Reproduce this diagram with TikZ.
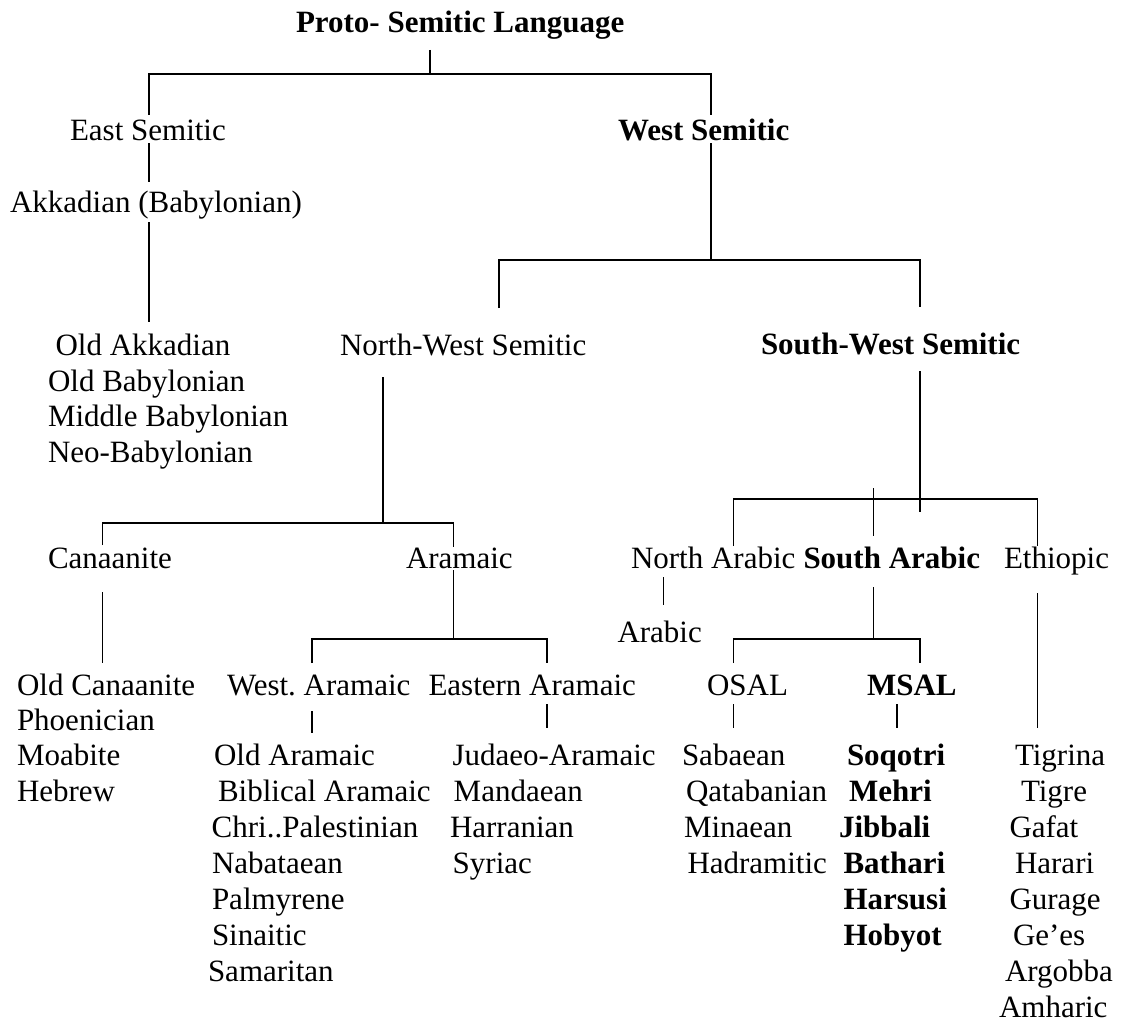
\documentclass[tikz,border=0pt]{standalone}
\usepackage{fontspec}
\setmainfont{Liberation Serif}
\begin{document}
\frenchspacing
\begin{tikzpicture}[x=1pt,y=-1pt,
  lbl/.style={anchor=base west,inner sep=0pt,outer sep=0pt,font=\fontsize{31}{35.6}\selectfont},
  bl/.style={lbl,font=\fontsize{31}{35.6}\selectfont\bfseries},
  ln/.style={line width=1.2pt,line cap=butt,line join=miter}]
\useasboundingbox (0,0) rectangle (1123,1022);
% ---------- text ----------
\node[bl]  (ps)  at (296,33)  {Proto- Semitic Language};
\node[lbl] (es)  at (70,140)  {East Semitic};
\node[bl]  (ws)  at (618,140) {West Semitic};
\node[lbl] (akk) at (10,212)  {Akkadian (Babylonian)};
\node[lbl] (oak) at (55.5,355) {Old Akkadian};
\node[lbl] (obb) at (48,391)  {Old Babylonian};
\node[lbl] (mbb) at (48,426)  {Middle Babylonian};
\node[lbl] (nbb) at (48,462)  {Neo-Babylonian};
\node[lbl] (nws) at (340,355) {North-West Semitic};
\node[bl]  (sws) at (761,354) {South-West Semitic};
\node[lbl] (can) at (48,568)  {Canaanite};
\node[lbl] (ara) at (406,568) {Aramaic};
\node[lbl] (nar) at (631,568) {North Arabic};
\node[bl]  (sar) at (803.5,568) {South Arabic};
\node[lbl] (eth) at (1004,568) {Ethiopic};
\node[lbl] (arb) at (617.5,642) {Arabic};
\node[lbl] (ocn) at (17,695)  {Old Canaanite};
\node[lbl] (pho) at (17,730)  {Phoenician};
\node[lbl] (moa) at (17,765)  {Moabite};
\node[lbl] (heb) at (17,801)  {Hebrew};
\node[lbl] (wa)  at (227,695) {West.\ Aramaic};
\node[lbl] (ea)  at (428.5,695) {Eastern Aramaic};
\node[lbl] (osal) at (707,695) {OSAL};
\node[bl]  (msal) at (867,695) {MSAL};
\node[lbl] (oar) at (214,765) {Old Aramaic};
\node[lbl] (bar) at (218,801) {Biblical Aramaic};
\node[lbl] (chr) at (211.7,837) {Chri..Palestinian};
\node[lbl] (nab) at (212,873) {Nabataean};
\node[lbl] (pal) at (212,909) {Palmyrene};
\node[lbl] (sin) at (212,945) {Sinaitic};
\node[lbl] (sam) at (208,981) {Samaritan};
\node[lbl] (jud) at (452.5,765) {Judaeo-Aramaic};
\node[lbl] (man) at (453.7,801) {Mandaean};
\node[lbl] (har) at (450,837) {Harranian};
\node[lbl] (syr) at (452.7,873) {Syriac};
\node[lbl] (sab) at (682,765) {Sabaean};
\node[lbl] (qat) at (686,801) {Qatabanian};
\node[lbl] (min) at (684,837) {Minaean};
\node[lbl] (had) at (687.5,873) {Hadramitic};
\node[bl]  (soq) at (847,765) {Soqotri};
\node[bl]  (meh) at (849,801) {Mehri};
\node[bl]  (jib) at (839,837) {Jibbali};
\node[bl]  (bat) at (843.5,873) {Bathari};
\node[bl]  (hrs) at (843.5,909) {Harsusi};
\node[bl]  (hob) at (843.5,945) {Hobyot};
\node[lbl] (tgn) at (1015,765) {Tigrina};
\node[lbl] (tgr) at (1021,801) {Tigre};
\node[lbl] (gaf) at (1009.5,837) {Gafat};
\node[lbl] (hrr) at (1015,873) {Harari};
\node[lbl] (gur) at (1009.5,909) {Gurage};
\node[lbl] (gee) at (1013,945) {Ge’es};
\node[lbl] (arg) at (1005,981) {Argobba};
\node[lbl] (amh) at (999,1017) {Amharic};
% ---------- connector end points ----------
\coordinate (psS) at (430,50);   \coordinate (psJ) at (430,74);
\coordinate (esN) at (149,115);  \coordinate (wsN) at (711,115);
\coordinate (esS) at (149,143);  \coordinate (akN) at (149,182);
\coordinate (akS) at (149,222);  \coordinate (oakN) at (149,322);
\coordinate (wsS) at (711,143);  \coordinate (wsJ) at (711,260);
\coordinate (nwsN) at (499,308); \coordinate (swsN) at (920,307);
\coordinate (nwsS) at (383,377); \coordinate (nwsJ) at (383,523);
\coordinate (canN) at (102.5,545); \coordinate (araN) at (453.5,547);
\coordinate (swsS) at (920,371); \coordinate (swsJ) at (920,512);
\coordinate (swsH) at (920,499);
\coordinate (narN) at (733.5,546); \coordinate (sarN) at (873.5,536);
\coordinate (sarT) at (873.5,488); \coordinate (ethN) at (1037.5,546);
\coordinate (canS) at (102.5,592); \coordinate (ocnN) at (102.5,663);
\coordinate (araS) at (453.5,570); \coordinate (araJ) at (453.5,639);
\coordinate (waN) at (312,663);  \coordinate (eaN) at (547,663);
\coordinate (waS) at (312,711);  \coordinate (oarN) at (312,733);
\coordinate (eaS) at (547,704);  \coordinate (judN) at (547,728);
\coordinate (narS) at (663.5,577); \coordinate (arbN) at (663.5,605);
\coordinate (sarS) at (873.5,587); \coordinate (sarJ) at (873.5,639);
\coordinate (osalN) at (733.5,663); \coordinate (msalN) at (920,663);
\coordinate (osalS) at (733.5,704); \coordinate (sabN) at (733.5,728);
\coordinate (msalS) at (897,704); \coordinate (soqN) at (897,728);
\coordinate (ethS) at (1037.5,593); \coordinate (tgnN) at (1037.5,728);
% ---------- connectors ----------
\draw[ln] (psS) -- (psJ);
\draw[ln] (esN) |- (psJ) -| (wsN);
\draw[ln] (esS) -- (akN);
\draw[ln] (akS) -- (oakN);
\draw[ln] (wsS) -- (wsJ);
\draw[ln] (nwsN) |- (wsJ) -| (swsN);
\draw[ln] (nwsS) -- (nwsJ);
\draw[ln] (canN) |- (nwsJ) -| (araN);
\draw[ln] (swsS) -- (swsJ);
\draw[ln] (narN) |- (swsH) -| (ethN);
\draw[ln] (sarT) -- (sarN);
\draw[ln] (canS) -- (ocnN);
\draw[ln] (araS) -- (araJ);
\draw[ln] (waN) |- (araJ) -| (eaN);
\draw[ln] (waS) -- (oarN);
\draw[ln] (eaS) -- (judN);
\draw[ln] (narS) -- (arbN);
\draw[ln] (sarS) -- (sarJ);
\draw[ln] (osalN) |- (sarJ) -| (msalN);
\draw[ln] (osalS) -- (sabN);
\draw[ln] (msalS) -- (soqN);
\draw[ln] (ethS) -- (tgnN);
\end{tikzpicture}
\end{document}
